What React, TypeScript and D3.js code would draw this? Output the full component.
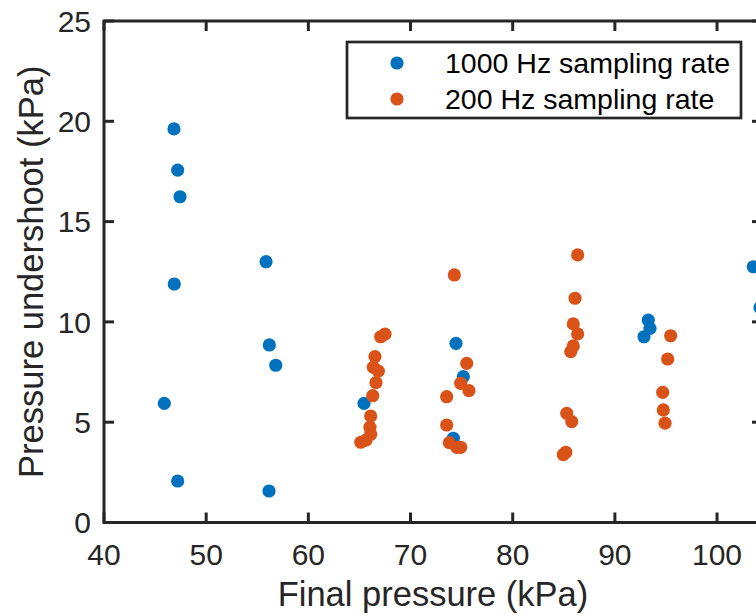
import React from "react";
import * as d3 from "d3";

const series1000X = [46.85, 47.21, 47.44, 46.88, 45.9, 47.21, 55.86, 56.18, 56.81, 56.15, 65.45, 74.45, 75.17, 74.19, 93.27, 93.44, 92.85, 103.55, 104.2];
const series1000Y = [19.62, 17.57, 16.24, 11.89, 5.94, 2.07, 13.0, 8.85, 7.84, 1.57, 5.94, 8.93, 7.27, 4.2, 10.09, 9.68, 9.26, 12.75, 10.71];

const series200X = [67.08, 67.5, 66.52, 66.36, 66.85, 66.62, 66.3, 66.1, 66.03, 66.1, 65.13, 65.64,
  74.29, 75.5, 74.91, 75.72, 73.54, 73.54, 73.8, 74.52, 74.91,
  86.36, 86.1, 85.93, 86.36, 85.93, 85.68, 85.29, 85.78, 84.95, 85.2,
  95.46, 95.17, 94.68, 94.74, 94.91];
const series200Y = [9.26, 9.39, 8.27, 7.74, 7.55, 6.97, 6.32, 5.31, 4.75, 4.4, 4.0, 4.11,
  12.34, 7.93, 6.94, 6.57, 6.27, 4.86, 3.98, 3.75, 3.75,
  13.34, 11.18, 9.9, 9.4, 8.8, 8.52, 5.44, 5.03, 3.38, 3.5,
  9.31, 8.15, 6.49, 5.61, 4.95];

const xTicks = [40, 50, 60, 70, 80, 90, 100];
const yTicks = [0, 5, 10, 15, 20, 25];
const legendLabels = ["1000 Hz sampling rate", "200 Hz sampling rate"];
const colors = ["#0072BD", "#D95319"];
const xLabel = "Final pressure (kPa)";
const yLabel = "Pressure undershoot (kPa)";

export default function App() {
  const W = 756, H = 615;
  const left = 104, right = 762, top = 21, bottom = 522.5;
  const x = d3.scaleLinear().domain([40, 104.4]).range([left, right]);
  const y = d3.scaleLinear().domain([0, 25]).range([bottom, top]);
  const axisColor = "#262626";
  const font = "Arial, 'Liberation Sans', Helvetica, sans-serif";
  const tickLen = 10;
  const r = 6.6;

  const s1 = series1000X.map((v, i) => [v, series1000Y[i]]);
  const s2 = series200X.map((v, i) => [v, series200Y[i]]);

  return (
    <svg width={W} height={H} style={{ position: "absolute", left: 0, top: 0, background: "#fff" }} fontFamily={font}>
      <rect x={0} y={0} width={W} height={H} fill="#fff" />
      {/* data */}
      {s1.map((d, i) => (
        <circle key={"a" + i} cx={x(d[0])} cy={y(d[1])} r={r} fill={colors[0]} />
      ))}
      {s2.map((d, i) => (
        <circle key={"b" + i} cx={x(d[0])} cy={y(d[1])} r={r} fill={colors[1]} />
      ))}
      {/* box */}
      <rect x={left} y={top} width={right - left} height={bottom - top} fill="none" stroke={axisColor} strokeWidth={3} />
      {xTicks.map((t) => (
        <g key={"xt" + t}>
          <line x1={x(t)} x2={x(t)} y1={bottom} y2={bottom - tickLen} stroke={axisColor} strokeWidth={3} />
          <line x1={x(t)} x2={x(t)} y1={top} y2={top + tickLen} stroke={axisColor} strokeWidth={3} />
          <text x={x(t)} y={565} textAnchor="middle" fontSize={30} fill={axisColor}>{t}</text>
        </g>
      ))}
      {yTicks.map((t) => (
        <g key={"yt" + t}>
          <line x1={left} x2={left + tickLen} y1={y(t)} y2={y(t)} stroke={axisColor} strokeWidth={3} />
          <line x1={right} x2={right - tickLen} y1={y(t)} y2={y(t)} stroke={axisColor} strokeWidth={3} />
          <text x={91} y={y(t)} dy="0.36em" textAnchor="end" fontSize={30} fill={axisColor}>{t}</text>
        </g>
      ))}
      <text x={433} y={606} textAnchor="middle" fontSize={34.5} fill={axisColor}>{xLabel}</text>
      <text transform={`translate(43, ${(top + bottom) / 2}) rotate(-90)`} textAnchor="middle" fontSize={34.5} fill={axisColor}>{yLabel}</text>
      {/* legend */}
      <rect x={347} y={42} width={394} height={76} fill="#fff" stroke={axisColor} strokeWidth={2.7} />
      {legendLabels.map((l, i) => (
        <g key={"lg" + i}>
          <circle cx={397} cy={63 + i * 36} r={r} fill={colors[i]} />
          <text x={445} y={72.5 + i * 36} fontSize={28.5} fill="#000">{l}</text>
        </g>
      ))}
    </svg>
  );
}
